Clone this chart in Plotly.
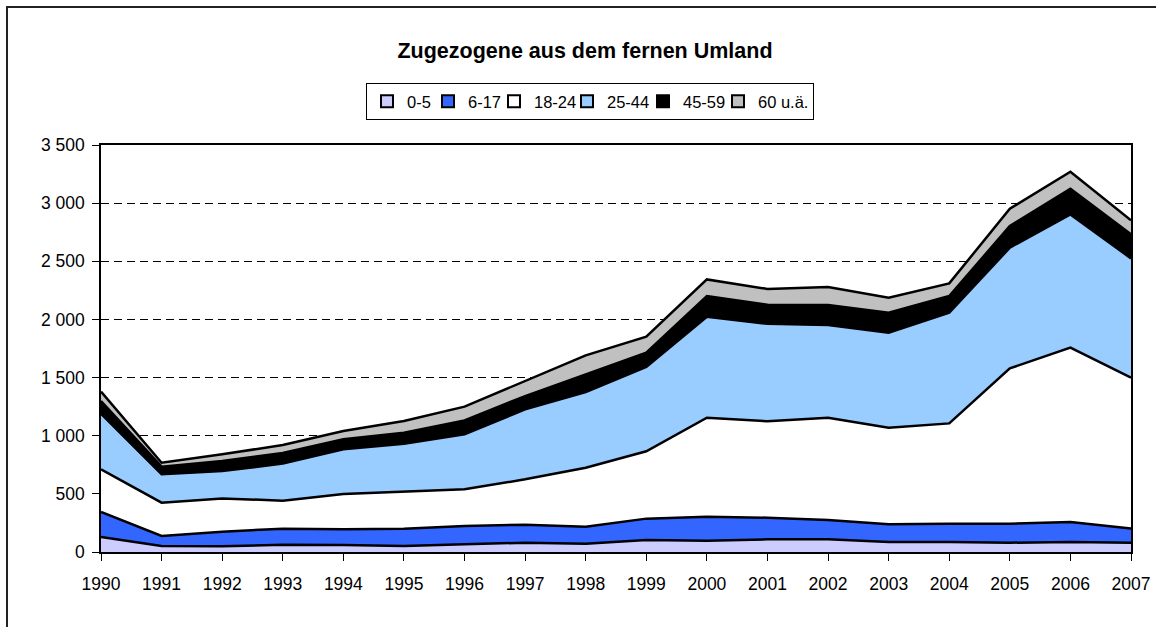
import plotly.graph_objects as go

years = list(range(1990, 2008))
series_names = ["0-5", "6-17", "18-24", "25-44", "45-59", "60 u.ä."]
age_0_5 = [130, 52, 49, 63, 60, 52, 66, 80, 72, 103, 97, 109, 109, 86, 86, 80, 86, 80]
age_6_17 = [214, 86, 126, 137, 135, 149, 158, 155, 146, 184, 207, 186, 166, 152, 158, 164, 172, 123]
age_18_24 = [367, 286, 286, 241, 304, 315, 315, 390, 507, 579, 851, 829, 880, 831, 862, 1335, 1499, 1296]
age_25_44 = [478, 244, 235, 319, 384, 415, 473, 602, 651, 725, 868, 838, 797, 817, 952, 1038, 1146, 1026]
age_45_59 = [109, 66, 86, 91, 86, 95, 120, 114, 152, 123, 178, 164, 172, 172, 143, 186, 221, 206]
age_60_plus = [81, 34, 58, 69, 71, 100, 118, 129, 163, 137, 143, 136, 154, 129, 109, 149, 146, 121]
colors = ["#CCCCFF", "#3366FF", "#FFFFFF", "#99CCFF", "#000000", "#C0C0C0"]
title_text = "Zugezogene aus dem fernen Umland"

# legend entry widths (layout only)
legend_widths = [16, 21, 28, 31, 30, 50]

all_series = [age_0_5, age_6_17, age_18_24, age_25_44, age_45_59, age_60_plus]

FONT = "Liberation Sans, Arial, sans-serif"
W, H = 1156, 627
L, R, T, B = 101, 25, 145, 75

fig = go.Figure()
for name, vals, col in zip(series_names, all_series, colors):
    fig.add_trace(go.Scatter(
        x=years, y=vals, name=name, mode="lines", stackgroup="one",
        fillcolor=col, line=dict(color="black", width=2.5, shape="linear"),
        showlegend=False, hoverinfo="x+y+name"))

# legend entries (square symbols like the original)
for name, col, lw in zip(series_names, colors, legend_widths):
    fig.add_trace(go.Scatter(
        x=[None], y=[None], name=name, mode="markers",
        marker=dict(symbol="square", size=13, color=col,
                    line=dict(color="black", width=2)),
        showlegend=True, legendwidth=lw))

fig.update_layout(
    width=W, height=H,
    margin=dict(l=L, r=R, t=T, b=B, autoexpand=False),
    paper_bgcolor="white", plot_bgcolor="white",
    font=dict(family=FONT, size=17.5, color="black"),
    separators=", ",
    title=dict(text="<b>" + title_text + "</b>", x=585 / W, xanchor="center",
               y=1 - 50 / H, yanchor="middle",
               font=dict(family=FONT, size=21.5, color="black")),
    legend=dict(orientation="h", xref="container", yref="container",
                x=366 / W, xanchor="left", y=1 - 83 / H, yanchor="top",
                bordercolor="black", borderwidth=1, bgcolor="white",
                font=dict(family=FONT, size=16.5, color="black"),
                traceorder="normal", itemsizing="constant", tracegroupgap=0),
    xaxis=dict(range=[1990, 2007], tickmode="array", tickvals=years,
               ticktext=[str(y) for y in years],
               showgrid=False, zeroline=False,
               showline=True, linecolor="black", linewidth=1.5, mirror=True,
               ticks="outside", ticklen=7, tickcolor="black", tickwidth=1,
               ticklabelstandoff=8),
    yaxis=dict(range=[0, 3500], dtick=500, tick0=0, tickformat=",d",
               showgrid=True, gridcolor="black", gridwidth=1, griddash="8px,5px",
               zeroline=False,
               showline=True, linecolor="black", linewidth=1.5, mirror=True,
               ticks="outside", ticklen=7, tickcolor="black", tickwidth=1,
               ticklabelstandoff=4),
)

# outer chart frame (only left and top edges fall inside the picture)
fig.add_shape(type="rect", xref="paper", yref="paper",
              x0=(7 - L) / (W - L - R), x1=(1175 - L) / (W - L - R),
              y0=(H - B - 645) / (H - T - B), y1=(H - B - 7) / (H - T - B),
              line=dict(color="#222222", width=2), fillcolor="rgba(0,0,0,0)",
              layer="below")

fig.write_html("out.html", config={"displayModeBar": False},
               post_script="document.body.style.margin='0';")
